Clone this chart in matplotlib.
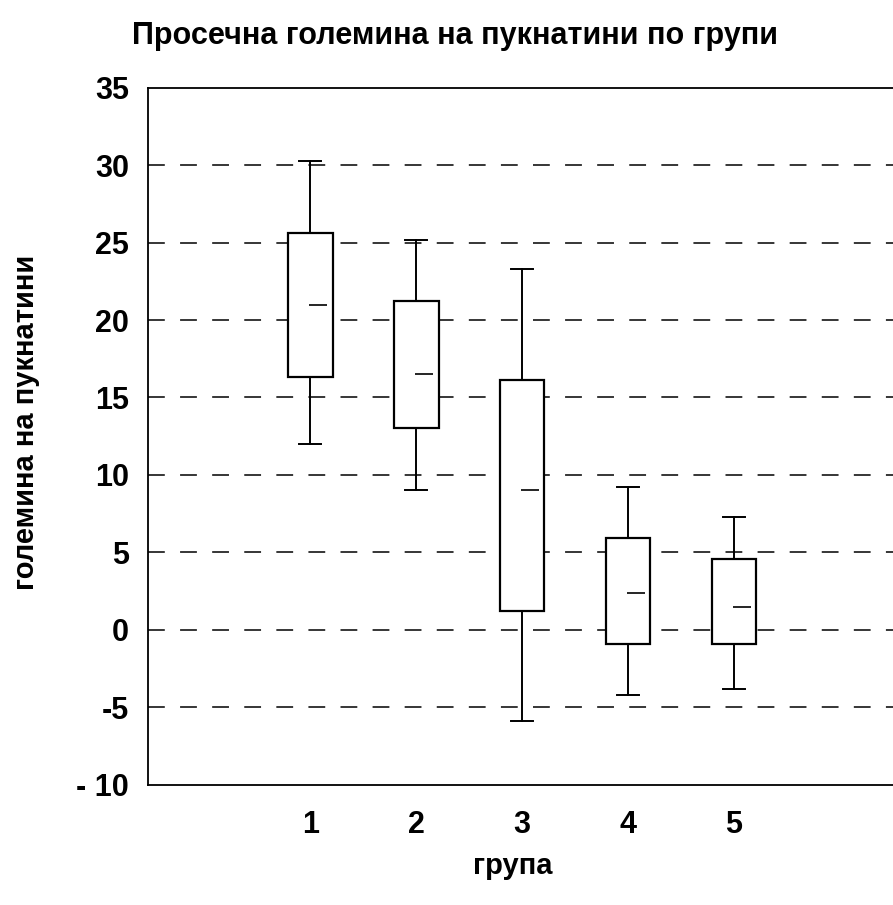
import matplotlib.pyplot as plt

plt.rcParams['font.family'] = ['Liberation Sans', 'DejaVu Sans']
plt.rcParams['font.weight'] = 'bold'
plt.rcParams['axes.unicode_minus'] = False

# box statistics
groups = [1, 2, 3, 4, 5]
whislo = [12.0, 9.0, -5.9, -4.2, -3.8]
q1 = [16.3, 13.0, 1.2, -0.9, -0.9]
med = [21.0, 16.5, 9.0, 2.4, 1.5]
q3 = [25.6, 21.2, 16.1, 5.9, 4.6]
whishi = [30.3, 25.2, 23.3, 9.2, 7.3]
yticks = [-10, -5, 0, 5, 10, 15, 20, 25, 30, 35]
ytick_labels = ['- 10', '-5', '0', '5', '10', '15', '20', '25', '30', '35']
gridvals = [-5, 0, 5, 10, 15, 20, 25, 30]

stats = []
for i in range(len(groups)):
    stats.append(dict(whislo=whislo[i], q1=q1[i], med=med[i], q3=q3[i],
                      whishi=whishi[i], fliers=[], label=str(groups[i])))

fig = plt.figure(figsize=(8.93, 9.05), dpi=100)
ax = fig.add_axes([0.166, 0.133, 0.834, 0.770])

# dashed horizontal guide lines
for v in gridvals:
    ax.axhline(v, color='black', lw=1.1, dashes=(11, 10), zorder=1)

ax.bxp(stats, positions=groups, widths=0.42, capwidths=0.21,
       boxprops=dict(edgecolor='black', lw=1.6, facecolor='white'),
       whiskerprops=dict(color='black', lw=1.4),
       capprops=dict(color='black', lw=1.4),
       medianprops=dict(visible=False),
       patch_artist=True, zorder=2)

# short median marks, drawn right of the centre like in the original
for x, m in zip(groups, med):
    ax.hlines(m, x - 0.01, x + 0.16, color='black', lw=1.2, zorder=3)

ax.set_xlim(-0.53, 6.5)
ax.set_ylim(-10, 35)
ax.set_yticks(yticks)
ax.set_yticklabels(ytick_labels)
ax.set_xticks(groups)
ax.set_xticklabels([str(g) for g in groups])
ax.tick_params(axis='both', length=0, labelsize=22)
ax.tick_params(axis='y', pad=14)
ax.tick_params(axis='x', pad=18)
ax.spines['right'].set_visible(False)
for s in ['left', 'top', 'bottom']:
    ax.spines[s].set_linewidth(1.3)

ax.set_ylabel('големина на пукнатини', fontsize=21, fontweight='bold')
ax.yaxis.set_label_coords(-0.145, 0.52)
ax.set_xlabel('група', fontsize=21, fontweight='bold')
ax.xaxis.set_label_coords(0.49, -0.097)
fig.suptitle('Просечна големина на пукнатини по групи', fontsize=22,
             fontweight='bold', x=0.51, y=0.977)

plt.savefig('out.png', dpi=100)
